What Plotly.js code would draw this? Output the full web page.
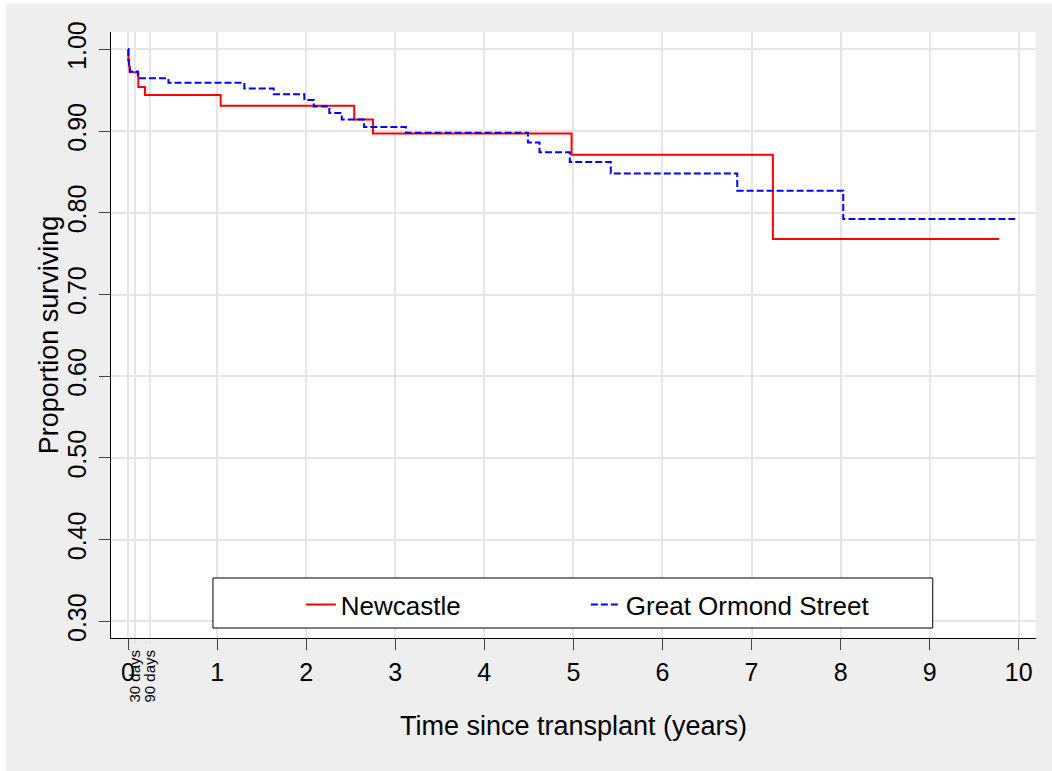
<!DOCTYPE html>
<html>
<head>
<meta charset="utf-8">
<script src="https://cdn.plot.ly/plotly-3.0.1.min.js"></script>
<style>html,body{margin:0;padding:0;background:#fff;} #chart{width:1052px;height:771px;}</style>
</head>
<body>
<div id="chart"></div>
<script>
// ---- data ----
const seriesNames = ["Newcastle", "Great Ormond Street"];

// Newcastle Kaplan-Meier step curve (time in years, proportion surviving)
const newcastleTime = [0, 0.005, 0.012, 0.02, 0.116, 0.19, 1.04, 2.54, 2.75, 4.98, 7.24, 9.78];
const newcastleSurv = [1.0, 0.986, 0.979, 0.972, 0.954, 0.944, 0.931, 0.914, 0.897, 0.871, 0.768, 0.768];

// Great Ormond Street Kaplan-Meier step curve
const gosTime = [0, 0.004, 0.01, 0.02, 0.11, 0.454, 1.306, 1.636, 1.98, 2.086, 2.26, 2.40, 2.65, 3.12, 4.49, 4.62, 4.96, 5.42, 6.84, 8.03, 9.96];
const gosSurv = [1.0, 0.987, 0.979, 0.973, 0.9645, 0.959, 0.952, 0.945, 0.938, 0.930, 0.922, 0.914, 0.905, 0.898, 0.886, 0.874, 0.862, 0.848, 0.827, 0.7925, 0.7925];

// axis ticks
const xTickVals = [0, 1, 2, 3, 4, 5, 6, 7, 8, 9, 10];
const xTickText = ["0", "1", "2", "3", "4", "5", "6", "7", "8", "9", "10"];
const yTickVals = [0.3, 0.4, 0.5, 0.6, 0.7, 0.8, 0.9, 1.0];
const yTickText = ["0.30", "0.40", "0.50", "0.60", "0.70", "0.80", "0.90", "1.00"];
const milestoneDays = [30, 90];
const milestoneLabels = ["30 days", "90 days"];

const xTitle = "Time since transplant (years)";
const yTitle = "Proportion surviving";

// ---- chart ----
const FONT = '"Liberation Sans", Arial, Helvetica, sans-serif';
const GRID = '#e6e6e6';
const xRange = [-0.191, 10.194];
const yRange = [0.2797, 1.0212];
const PW = 925.3, PH = 606;           // plot area size in px
const px = v => (v - 111) / PW;       // page px -> paper x
const py = v => (638 - v) / PH;       // page px -> paper y

const traces = [
  {
    x: newcastleTime, y: newcastleSurv, name: seriesNames[0],
    type: 'scatter', mode: 'lines', line: {shape: 'hv', color: '#ff0000', width: 2}
  },
  {
    x: gosTime, y: gosSurv, name: seriesNames[1],
    type: 'scatter', mode: 'lines', line: {shape: 'hv', color: '#0000ff', width: 2, dash: '7px,3px'}
  },
  {x: [], y: [], xaxis: 'x2', yaxis: 'y', showlegend: false, hoverinfo: 'skip', type: 'scatter', mode: 'lines'},
  {x: [], y: [], xaxis: 'x', yaxis: 'y2', showlegend: false, hoverinfo: 'skip', type: 'scatter', mode: 'lines'}
];

const layout = {
  width: 1052, height: 771,
  margin: {l: 111, r: 16, t: 32, b: 133},
  paper_bgcolor: '#eeeeee',
  plot_bgcolor: '#ffffff',
  font: {family: FONT, color: '#000'},
  showlegend: true,
  xaxis: {
    range: xRange, autorange: false,
    tickmode: 'array', tickvals: xTickVals, ticktext: xTickText,
    ticks: 'outside', ticklen: 11, tickwidth: 1, tickcolor: '#444',
    showline: true, linecolor: '#000', linewidth: 1, mirror: false,
    showgrid: true, gridcolor: GRID, gridwidth: 2, zeroline: false,
    tickfont: {size: 25, family: FONT, color: '#000'},
    ticklabelstandoff: 1,
    title: {text: xTitle, font: {size: 27, family: FONT}, standoff: 31},
    automargin: false
  },
  xaxis2: {
    overlaying: 'x', anchor: 'y', side: 'bottom',
    range: xRange, autorange: false,
    tickmode: 'array',
    tickvals: milestoneDays.map(d => d / 365.25),
    ticktext: milestoneLabels,
    tickangle: -90,
    ticks: 'outside', ticklen: 5, tickwidth: 2, tickcolor: GRID,
    showline: false, showgrid: true, gridcolor: GRID, gridwidth: 2, zeroline: false,
    tickfont: {size: 15, family: FONT, color: '#000'},
    automargin: false
  },
  yaxis: {
    range: yRange, autorange: false,
    tickmode: 'array', tickvals: yTickVals, ticktext: yTickText,
    tickangle: -90,
    ticks: 'outside', ticklen: 11, tickwidth: 1, tickcolor: '#444',
    showline: true, linecolor: '#000', linewidth: 1,
    showgrid: true, gridcolor: GRID, gridwidth: 2, zeroline: false,
    tickfont: {size: 25, family: FONT, color: '#000'},
    ticklabelstandoff: 3,
    automargin: false
  },
  // carrier axis for the y title so it can sit at the reference distance
  yaxis2: {
    overlaying: 'y', anchor: 'free', position: 0.003, side: 'left',
    range: yRange, autorange: false,
    showticklabels: false, ticks: '', showgrid: false, showline: false, zeroline: false,
    title: {text: yTitle, font: {size: 27, family: FONT}, standoff: 46},
    automargin: false
  },
  legend: {
    orientation: 'h',
    x: px(586), xanchor: 'center',
    y: py(628), yanchor: 'bottom',
    bgcolor: 'rgba(0,0,0,0)', borderwidth: 0,
    font: {size: 26, family: FONT, color: '#000'},
    entrywidth: 240, entrywidthmode: 'pixels',
    traceorder: 'normal'
  },
  shapes: [
    // white page edge strips outside the grey graph region
    {type: 'rect', xref: 'paper', yref: 'paper', x0: -0.2, x1: px(6), y0: -0.3, y1: 1.2,
     fillcolor: '#ffffff', line: {width: 0}, layer: 'below'},
    {type: 'rect', xref: 'paper', yref: 'paper', x0: -0.2, x1: 1.2, y0: py(4), y1: 1.2,
     fillcolor: '#ffffff', line: {width: 0}, layer: 'below'},
    // legend frame
    {type: 'rect', xref: 'paper', yref: 'paper', x0: px(213), x1: px(933), y0: py(628), y1: py(578),
     fillcolor: '#ffffff', line: {width: 1, color: '#000'}, layer: 'above'}
  ]
};

Plotly.newPlot('chart', traces, layout, {displayModeBar: false, staticPlot: true});
</script>
</body>
</html>
